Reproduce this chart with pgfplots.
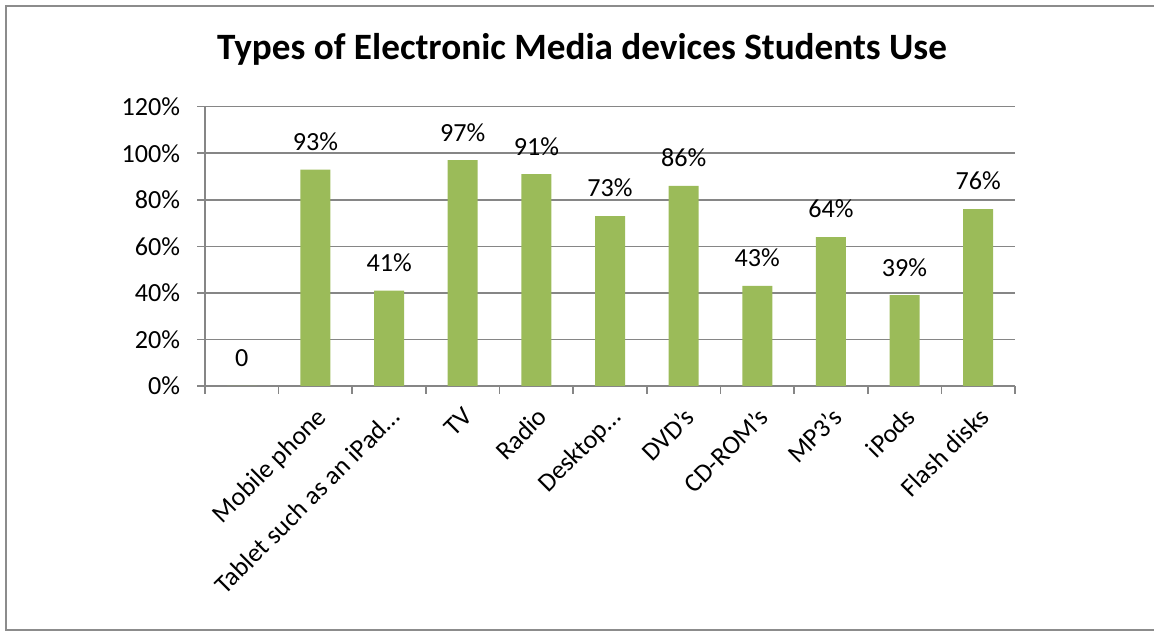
\documentclass[border=0pt]{standalone}
\usepackage{fontspec}
\setmainfont{Carlito}
\usepackage{pgfplots}
\pgfplotsset{compat=1.18}
\definecolor{bargreen}{RGB}{155,187,89}
\definecolor{gridgray}{RGB}{134,134,134}
\definecolor{bordergray}{RGB}{140,140,140}
\newcommand{\lbl}{\fontsize{19.6pt}{23pt}\selectfont}
\begin{document}
\begin{tikzpicture}
\useasboundingbox (0,0) rectangle (865.5pt,473.25pt);
\draw[bordergray, line width=1.5pt] (870pt,468.75pt) -- (4.5pt,468.75pt) -- (4.5pt,0.75pt) -- (870pt,0.75pt);
\node[anchor=base, font=\fontsize{27.9pt}{33pt}\selectfont\bfseries] at (436.5pt,428.25pt) {Types of Electronic Media devices Students Use};
\begin{axis}[
  at={(153.75pt,183.75pt)}, anchor=south west,
  scale only axis, width=607.5pt, height=209.5pt,
  xmin=-0.5, xmax=10.5, ymin=0, ymax=120,
  axis lines=left, axis line style={-, gridgray, line width=1.2pt},
  xtick={-0.5,0.5,...,10.5},
  x tick label as interval,
  xticklabels={{},Mobile phone,Tablet such as an iPad…,TV,Radio,Desktop…,DVD’s,CD-ROM’s,MP3’s,iPods,Flash disks},
  ytick={0,20,...,120},
  yticklabels={0\%,20\%,40\%,60\%,80\%,100\%,120\%},
  ymajorgrids, grid style={gridgray, line width=1.2pt},
  tick align=outside, major tick length=6pt,
  tick style={gridgray, line width=1.2pt},
  ticklabel style={font=\lbl, inner sep=0pt},
  x tick label style={rotate=45, anchor=north east, xshift=-6.5pt, yshift=-6pt},
  y tick label style={xshift=-12.5pt},
  ybar, bar width=22.5pt,
  nodes near coords, point meta=explicit symbolic,
  every node near coord/.append style={font=\lbl, anchor=south, inner sep=0pt, yshift=14pt, text=black},
  clip=false,
]
\addplot[fill=bargreen, draw=none] coordinates {
(0,0) [0]
(1,93) [93\%]
(2,41) [41\%]
(3,97) [97\%]
(4,91) [91\%]
(5,73) [73\%]
(6,86) [86\%]
(7,43) [43\%]
(8,64) [64\%]
(9,39) [39\%]
(10,76) [76\%]
};
\end{axis}
\end{tikzpicture}
\end{document}
